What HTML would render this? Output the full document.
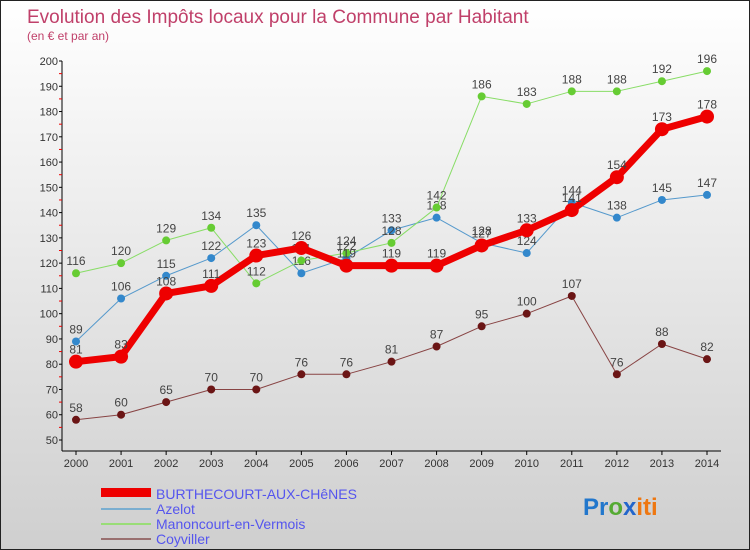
<!DOCTYPE html>
<html><head><meta charset="utf-8"><style>
body{margin:0}
#c{width:750px;height:550px;position:relative;overflow:hidden;box-sizing:border-box;border:1px solid #222;background:linear-gradient(#ffffff,#cfcfcf);font-family:"Liberation Sans",sans-serif}
</style></head><body>
<div id="c">
<svg id="s" width="750" height="550" style="position:absolute;left:0;top:0">
<text x="26" y="22" font-size="19" fill="#c0406a">Evolution des Impôts locaux pour la Commune par Habitant</text>
<text x="26" y="39" font-size="12" fill="#c0406a">(en € et par an)</text>
<g id="axes"></g><g id="series"></g>
<g>
<rect x="100" y="487" width="50" height="9" fill="#ee0000"/>
<text x="155" y="498" font-size="14" fill="#5555ee">BURTHECOURT-AUX-CHêNES</text>
<rect x="100" y="507" width="50" height="2" fill="#7aaed0"/>
<text x="155" y="513" font-size="14" fill="#5555ee">Azelot</text>
<rect x="100" y="522" width="50" height="2" fill="#99dd77"/>
<text x="155" y="528" font-size="14" fill="#5555ee">Manoncourt-en-Vermois</text>
<rect x="100" y="537" width="50" height="2" fill="#997070"/>
<text x="155" y="543" font-size="14" fill="#5555ee">Coyviller</text>
</g>
<text x="582" y="514" font-size="24" font-weight="bold"><tspan fill="#2277cc">Pr</tspan><tspan fill="#55aa33">o</tspan><tspan fill="#2266cc">x</tspan><tspan fill="#ee7711">iti</tspan></text>
</svg>
</div>
<script>
const years=[2000,2001,2002,2003,2004,2005,2006,2007,2008,2009,2010,2011,2012,2013,2014];
const burthecourt=[81,83,108,111,123,126,119,119,119,127,133,141,154,173,178];
const azelot=[89,106,115,122,135,116,122,133,138,128,124,144,138,145,147];
const manoncourt=[116,120,129,134,112,121,124,128,142,186,183,188,188,192,196];
const coyviller=[58,60,65,70,70,76,76,81,87,95,100,107,76,88,82];
const yTicks=[50,60,70,80,90,100,110,120,130,140,150,160,170,180,190,200];
const NS='http://www.w3.org/2000/svg';
const x=i=>75+i*(706-75)/(years.length-1);
const y=v=>439-(v-50)*(379/150);
function mk(t,a,p){const e=document.createElementNS(NS,t);for(const k in a)e.setAttribute(k,a[k]);p.appendChild(e);return e;}
const ax=document.getElementById('axes'),sr=document.getElementById('series');
const yl=mk('line',{x1:61,y1:60,x2:61,y2:450,stroke:'#000'},ax);


const xl=mk('line',{x1:61,y1:450,x2:720,y2:450,stroke:'#000'},ax);


yTicks.forEach(v=>{
  mk('line',{x1:58,x2:61,y1:y(v),y2:y(v),stroke:'#000'},ax);
  if(v<200)mk('line',{x1:58,x2:61,y1:y(v+5),y2:y(v+5),stroke:'#e00'},ax);
  const t=mk('text',{x:57,y:y(v)+4,'font-size':11,fill:'#333','text-anchor':'end'},ax);t.textContent=v;
  
  
});
years.forEach((yr,i)=>{
  mk('line',{x1:x(i),x2:x(i),y1:450,y2:454,stroke:'#000'},ax);
  const t=mk('text',{x:x(i),y:466,'font-size':11,fill:'#333','text-anchor':'middle'},ax);t.textContent=yr;
  
  
});
function draw(data,color,dot,w,r,name){
  const g=mk('g',{},sr);
  
  
  mk('polyline',{points:data.map((v,i)=>x(i)+','+y(v)).join(' '),fill:'none',stroke:color,'stroke-width':w,'stroke-linejoin':'round'},g);
  data.forEach((v,i)=>{
    const c=mk('circle',{cx:x(i),cy:y(v),r:r,fill:dot},g);
    
    
    const t=mk('text',{x:x(i),y:y(v)-8,'font-size':12,fill:'#444','text-anchor':'middle'},g);t.textContent=v;
  });
}
draw(coyviller,'#884444','#6b1515',1,4,'coyviller');
draw(azelot,'#5599cc','#3388cc',1,4,'azelot');
draw(manoncourt,'#88dd66','#66cc33',1,4,'manoncourt');
draw(burthecourt,'#ee0000','#ee0000',7,7,'burthecourt');
</script>
</body></html>
